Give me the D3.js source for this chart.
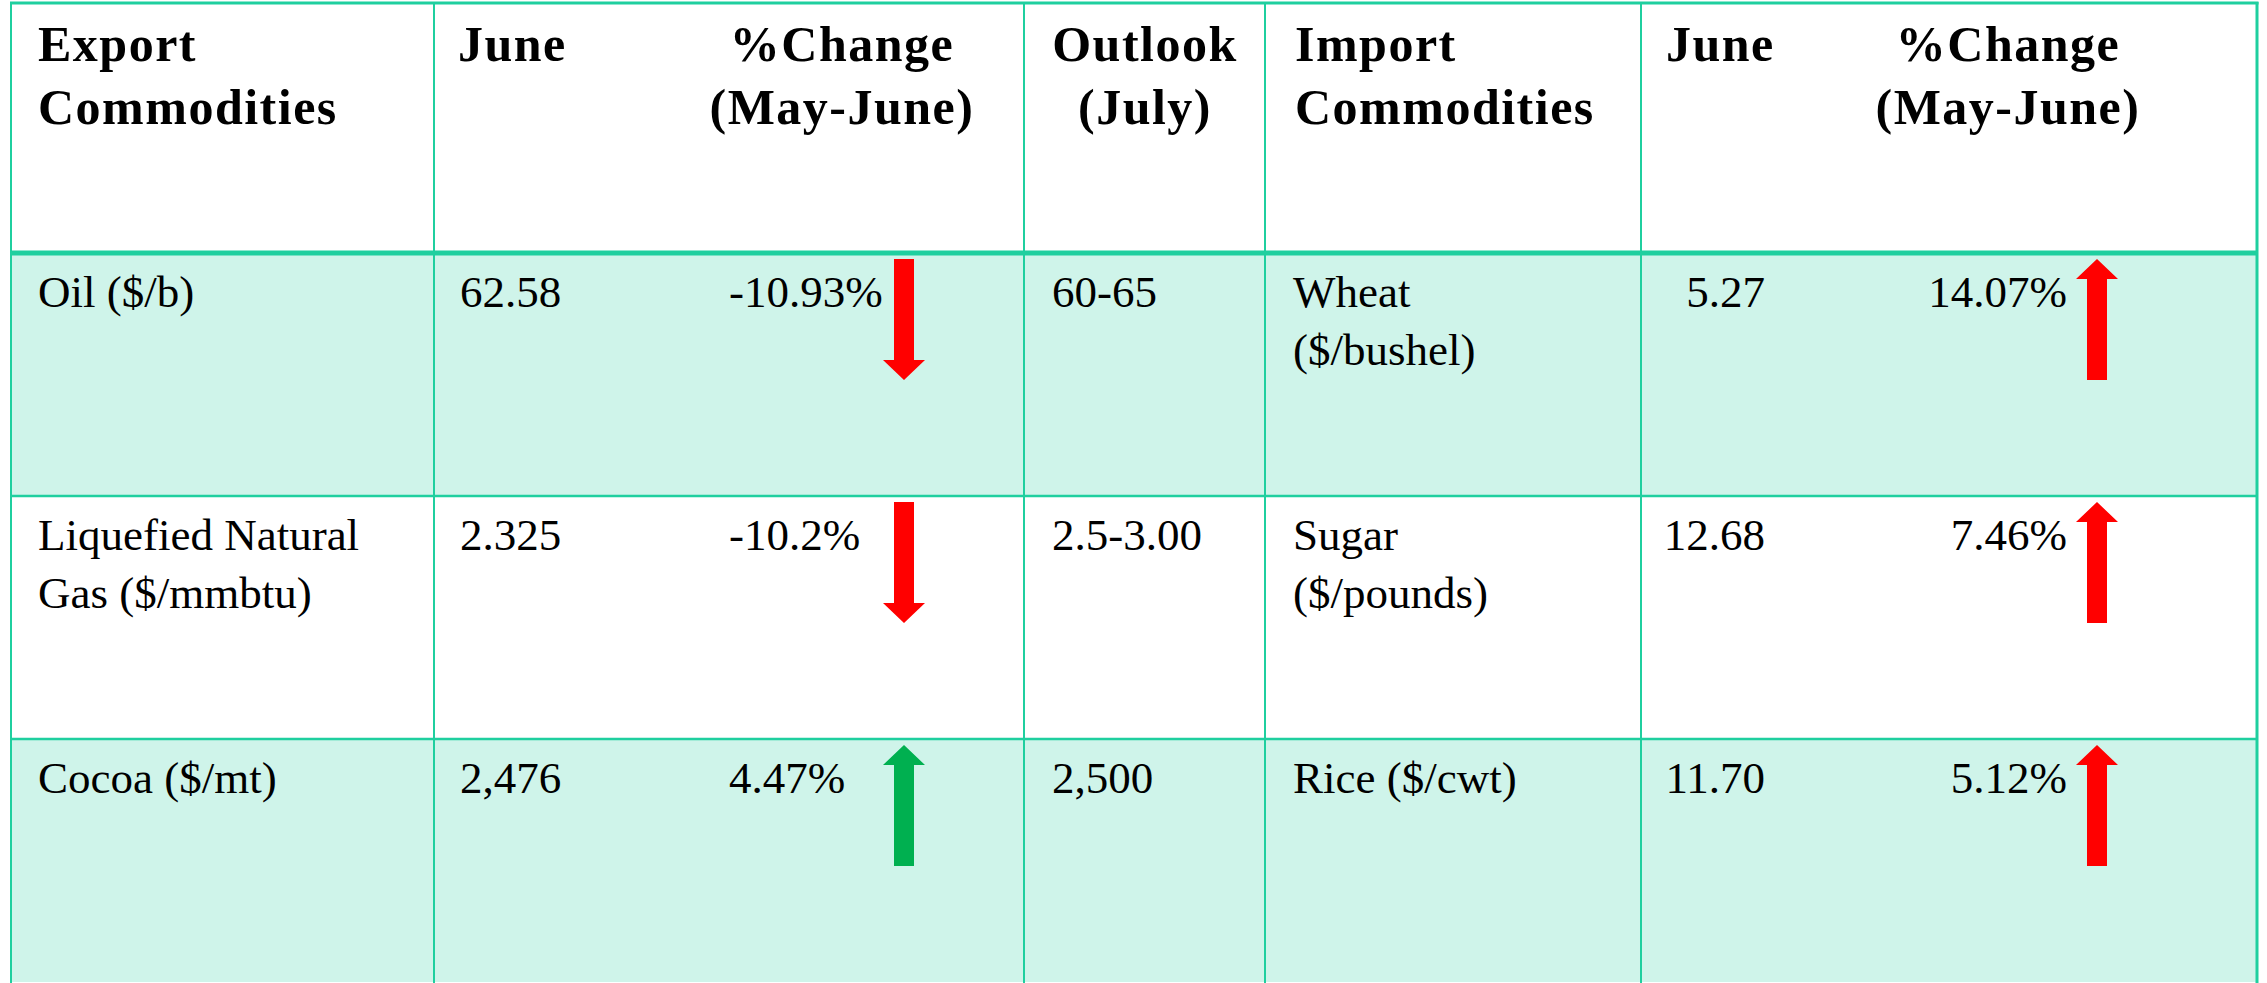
<!DOCTYPE html>
<html>
<head>
<meta charset="utf-8">
<script src="https://cdn.jsdelivr.net/npm/d3@7"></script>
<style>
  body { margin: 0; background: #fff; }
  text { font-family: "Liberation Serif", "Times New Roman", serif; fill: #000; }
</style>
</head>
<body>
<script>
// table data
const headers = [
  ["Export", "Commodities"], ["June"], ["%Change", "(May-June)"], ["Outlook", "(July)"],
  ["Import", "Commodities"], ["June"], ["%Change", "(May-June)"]
];
const exportNames = [["Oil ($/b)"], ["Liquefied Natural", "Gas ($/mmbtu)"], ["Cocoa ($/mt)"]];
const exportJune = ["62.58", "2.325", "2,476"];
const exportChange = [-10.93, -10.2, 4.47];
const outlook = ["60-65", "2.5-3.00", "2,500"];
const importNames = [["Wheat", "($/bushel)"], ["Sugar", "($/pounds)"], ["Rice ($/cwt)"]];
const importJune = ["5.27", "12.68", "11.70"];
const importChange = [14.07, 7.46, 5.12];

const w = 2267;
const h = 983;
const border = "#1fcf9f";
const mint = "#cff4ea";
const red = "#ff0000";
const green = "#00b050";

// column edges
const cols = [11, 434, 1024, 1265, 1641, 2257];
const headerBottom = 253;

const y = d3.scaleBand()
  .domain(d3.range(exportNames.length))
  .range([headerBottom, headerBottom + 3 * 243]);

const svg = d3.select("body")
  .append("svg")
  .attr("width", w)
  .attr("height", h);

// striped rows
svg.append("g")
  .selectAll("rect")
  .data(d3.range(exportNames.length))
  .enter()
  .append("rect")
  .attr("x", cols[0])
  .attr("y", d => y(d))
  .attr("width", cols[5] - cols[0])
  .attr("height", y.bandwidth())
  .attr("fill", d => d % 2 === 0 ? mint : "#fff");

// header text
const headerPos = [
  { x: 38, anchor: "start" },
  { x: 458, anchor: "start" },
  { x: 842, anchor: "middle" },
  { x: 1145, anchor: "middle" },
  { x: 1295, anchor: "start" },
  { x: 1666, anchor: "start" },
  { x: 2008, anchor: "middle" }
];

const hg = svg.append("g")
  .selectAll("text")
  .data(headers)
  .enter()
  .append("text")
  .attr("x", (d, i) => headerPos[i].x)
  .attr("y", 61)
  .attr("text-anchor", (d, i) => headerPos[i].anchor)
  .style("font-size", "50px")
  .style("font-weight", "bold")
  .style("letter-spacing", "1.5px");

hg.each(function (d, i) {
  d3.select(this).selectAll("tspan")
    .data(d)
    .enter()
    .append("tspan")
    .attr("x", headerPos[i].x)
    .attr("dy", (t, j) => j === 0 ? 0 : 63)
    .text(t => t);
});

// body cells
const pct = v => v + "%";
const cells = [];
exportNames.forEach((n, i) => {
  cells.push({ row: i, x: 38, anchor: "start", lines: n });
  cells.push({ row: i, x: 460, anchor: "start", lines: [exportJune[i]] });
  cells.push({ row: i, x: 729, anchor: "start", lines: [pct(exportChange[i])] });
  cells.push({ row: i, x: 1052, anchor: "start", lines: [outlook[i]] });
  cells.push({ row: i, x: 1293, anchor: "start", lines: importNames[i] });
  cells.push({ row: i, x: 1765, anchor: "end", lines: [importJune[i]] });
  cells.push({ row: i, x: 2067, anchor: "end", lines: [pct(importChange[i])] });
});

svg.append("g")
  .selectAll("text")
  .data(cells)
  .enter()
  .append("text")
  .attr("x", d => d.x)
  .attr("y", d => y(d.row) + 54)
  .attr("text-anchor", d => d.anchor)
  .style("font-size", "45px")
  .each(function (d) {
    d3.select(this).selectAll("tspan")
      .data(d.lines)
      .enter()
      .append("tspan")
      .attr("x", d.x)
      .attr("dy", (t, j) => j === 0 ? 0 : 58)
      .text(t => t);
  });

// arrows
const arrows = [];
exportChange.forEach((v, i) => arrows.push({ row: i, cx: 904, up: v > 0, color: v > 0 ? green : red }));
importChange.forEach((v, i) => arrows.push({ row: i, cx: 2097, up: v > 0, color: v > 0 ? red : green }));

function arrowPath(d) {
  const top = y(d.row) + 6;
  const bottom = top + 121;
  const sw = 10, hw = 21, hl = 20;
  const c = d.cx;
  if (d.up) {
    return `M${c},${top} L${c + hw},${top + hl} L${c + sw},${top + hl} L${c + sw},${bottom} ` +
      `L${c - sw},${bottom} L${c - sw},${top + hl} L${c - hw},${top + hl} Z`;
  }
  return `M${c - sw},${top} L${c + sw},${top} L${c + sw},${bottom - hl} L${c + hw},${bottom - hl} ` +
    `L${c},${bottom} L${c - hw},${bottom - hl} L${c - sw},${bottom - hl} Z`;
}

svg.append("g")
  .selectAll("path")
  .data(arrows)
  .enter()
  .append("path")
  .attr("d", arrowPath)
  .attr("fill", d => d.color);

// grid lines
const lines = svg.append("g").attr("stroke", border);

lines.selectAll(".v")
  .data(cols)
  .enter()
  .append("line")
  .attr("class", "v")
  .attr("x1", d => d)
  .attr("x2", d => d)
  .attr("y1", 2)
  .attr("y2", h)
  .attr("stroke-width", (d, i) => i === cols.length - 1 ? 3 : 2);

lines.append("line")
  .attr("x1", cols[0] - 1)
  .attr("x2", cols[5] + 1.5)
  .attr("y1", 3)
  .attr("y2", 3)
  .attr("stroke-width", 3);

lines.append("line")
  .attr("x1", cols[0])
  .attr("x2", cols[5])
  .attr("y1", headerBottom)
  .attr("y2", headerBottom)
  .attr("stroke-width", 5);

lines.selectAll(".hz")
  .data(d3.range(1, exportNames.length))
  .enter()
  .append("line")
  .attr("class", "hz")
  .attr("x1", cols[0])
  .attr("x2", cols[5])
  .attr("y1", d => y(d))
  .attr("y2", d => y(d))
  .attr("stroke-width", 2.5);
</script>
</body>
</html>
